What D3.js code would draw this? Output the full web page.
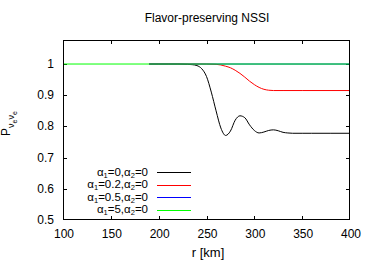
<!DOCTYPE html>
<html><head><meta charset="utf-8">
<script src="https://cdn.jsdelivr.net/npm/d3@7"></script>
<style>body{margin:0;background:#fff}svg{display:block;font-family:"Liberation Sans",Arial,sans-serif}</style>
</head><body>
<svg id="c" width="374" height="262"></svg>
<script>
const title = "Flavor-preserving NSSI";
const xTicks = [100,150,200,250,300,350,400];
const yTicks = [0.5,0.6,0.7,0.8,0.9,1];
const seriesNames = [["0","0"],["0.2","0"],["0.5","0"],["5","0"]];
const seriesColors = ["#000000","#ff0000","#0000ff","#00ff00"];
const rBlack = [190,200,210,220,230,235,240,245,250,255,260,265,270,275,280,285,290,295,300,305,310,315,320,325,330,335,340,350,360,380,400];
const pBlack = [1,1,1,1,0.999,0.998,0.995,0.985,0.96,0.91,0.85,0.795,0.771,0.785,0.82,0.834,0.828,0.805,0.787,0.779,0.782,0.787,0.789,0.786,0.781,0.779,0.778,0.778,0.778,0.778,0.778];
const rRed = [190,250,260,265,270,275,280,285,290,295,300,305,310,315,320,330,350,400];
const pRed = [1,1,0.999,0.997,0.993,0.988,0.98,0.97,0.958,0.945,0.934,0.925,0.919,0.916,0.915,0.915,0.915,0.915];
const rBlue = [190,400];
const pBlue = [1,1];
const rGreen = [100,400];
const pGreen = [1,1];

const svg = d3.select("#c");
const L=63,R=350,T=40,B=220;
const x = d3.scaleLinear().domain([100,400]).range([L,R]);
const y = d3.scaleLinear().domain([0.5,1.077]).range([B,T]);

svg.append("text").attr("x",207).attr("y",22).attr("text-anchor","middle").attr("font-size",12).text(title);

const tl=4;
const g = svg.append("g").attr("stroke","#000").attr("stroke-width",1);
xTicks.forEach(t=>{
  const xx=Math.round(x(t))+0.5;
  if(t>100&&t<400){
    g.append("line").attr("x1",xx).attr("x2",xx).attr("y1",B).attr("y2",B-tl);
    g.append("line").attr("x1",xx).attr("x2",xx).attr("y1",T).attr("y2",T+tl);
  }
  svg.append("text").attr("x",x(t)+1).attr("y",B+18).attr("text-anchor","middle").attr("font-size",12).text(t);
});
yTicks.forEach(t=>{
  const yy=Math.round(y(t))+0.5;
  if(t>0.5){
    g.append("line").attr("x1",L).attr("x2",L+tl).attr("y1",yy).attr("y2",yy);
    g.append("line").attr("x1",R).attr("x2",R-tl).attr("y1",yy).attr("y2",yy);
  }
  svg.append("text").attr("x",54).attr("y",y(t)+4).attr("text-anchor","end").attr("font-size",12).text(d3.format("~g")(t));
});

const line = d3.line().x(d=>x(d[0])).y(d=>y(d[1])).curve(d3.curveMonotoneX);
const data = [d3.zip(rBlack,pBlack), d3.zip(rRed,pRed), d3.zip(rBlue,pBlue), d3.zip(rGreen,pGreen)];
data.forEach((d,i)=>{
  svg.append("path").attr("d",line(d)).attr("fill","none").attr("stroke",seriesColors[i]).attr("stroke-width",1);
});

svg.append("rect").attr("x",L+0.5).attr("y",T+0.5).attr("width",R-L-1).attr("height",B-T-1).attr("fill","none").attr("stroke","#000").attr("stroke-width",1);

const ly=[172,184.5,197,209.5];
seriesNames.forEach((s,i)=>{
  const t = svg.append("text").attr("x",148).attr("y",ly[i]+3.5).attr("text-anchor","end").attr("font-size",11.5);
  t.append("tspan").text("α");
  t.append("tspan").attr("font-size",7.5).attr("dy",2).text("1");
  t.append("tspan").attr("dy",-2).text("="+s[0]+",α");
  t.append("tspan").attr("font-size",7.5).attr("dy",2).text("2");
  t.append("tspan").attr("dy",-2).text("="+s[1]);
  svg.append("line").attr("x1",157).attr("x2",191).attr("y1",Math.round(ly[i])+0.5).attr("y2",Math.round(ly[i])+0.5).attr("stroke",seriesColors[i]).attr("stroke-width",1);
});

svg.append("text").attr("x",208).attr("y",257).attr("text-anchor","middle").attr("font-size",13).text("r [km]");
const yl = svg.append("text").attr("transform","translate(10,136) rotate(-90)").attr("font-size",12);
yl.append("tspan").text("P");
yl.append("tspan").attr("font-size",9).attr("dy",4).text("ν");
yl.append("tspan").attr("font-size",7).attr("dy",3).text("e");
yl.append("tspan").attr("font-size",9).attr("dy",-3).text("ν");
yl.append("tspan").attr("font-size",7).attr("dy",3).text("e");
</script>
</body></html>
